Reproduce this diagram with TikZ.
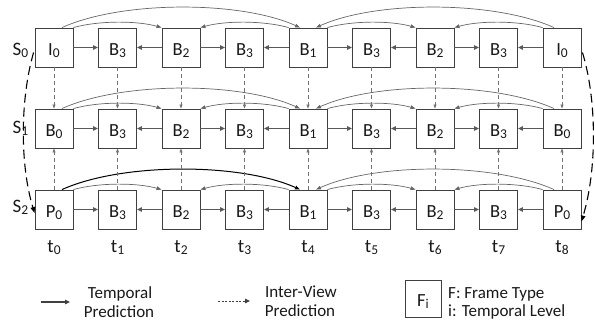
\documentclass[tikz,border=0pt]{standalone}
\usepackage{fontspec}
\setmainfont{Carlito}
\usetikzlibrary{arrows.meta,calc}

% lowered, smaller index digit for frame / view / time labels
\newcommand\sbs[1]{\raisebox{-2pt}{\fontsize{13.5}{13.5}\selectfont #1}}

% one row of nine frames of a GOP; #1 row index, #2 centre y, #3 anchor frame type
\newcommand\framerow[3]{%
  \foreach \c/\ty/\lv in {0/#3/0,1/B/3,2/B/2,3/B/3,4/B/1,5/B/3,6/B/2,7/B/3,8/#3/0}
    \node[framebox] (f#1-\c) at ({54+63.5*\c},#2) {\ty\sbs{\lv}};
}

\begin{document}
\begin{tikzpicture}[x=1pt,y=-1pt,
  every node/.style={text=black!90},
  framebox/.style={draw=black!75, line width=0.9pt, fill=white,
    minimum width=38pt, minimum height=39pt, inner sep=0pt,
    text height=15pt, text depth=0pt, font=\fontsize{18.5}{18.5}\selectfont},
  biglbl/.style={font=\fontsize{19}{19}\selectfont, inner sep=0pt},
  legtext/.style={font=\fontsize{17}{17}\selectfont, inner sep=0pt},
  temporal/.style={draw=black!65, line width=1.6pt,
    -{Triangle[length=5pt,width=4.5pt]}},
  hop/.style={draw=black!60, line width=0.7pt,
    -{Triangle[length=5pt,width=3.6pt]}},
  interview/.style={draw=black!55, line width=0.7pt, dash pattern=on 4pt off 3pt,
    -{Triangle[length=4pt,width=3pt]}},
  viewlink/.style={draw=black, line width=1.1pt, dash pattern=on 9pt off 5pt,
    -{Triangle[length=6pt,width=4.5pt]}},
  legsolid/.style={draw=black!75, line width=1.5pt,
    -{Triangle[length=5pt,width=4.5pt]}},
  legdash/.style={draw=black!75, line width=0.9pt, dash pattern=on 2pt off 1.5pt,
    -{Triangle[length=5pt,width=4.5pt]}}]
\useasboundingbox (0,0) rectangle (595,322);

% frames of the three views
\framerow{0}{47.5}{I}
\framerow{1}{128.5}{B}
\framerow{2}{209.5}{P}

% inter-view links between views S0 and S2
\draw[viewlink] ($(f0-0.west)+(-1,5)$) .. controls (20,100) and (20,165) .. ($(f2-0.west)+(0,3.5)$);
\draw[viewlink] ($(f0-8.east)+(1,5)$) .. controls (597,100) and (597,170) .. ($(f2-8.east)+(0,12)$);

% temporal prediction between neighbouring frames, and the hierarchical hops
\foreach \r in {0,1,2} {
  \foreach \a/\b in {0/1,2/1,2/3,4/3,4/5,6/5,6/7,8/7}
    \draw[temporal] (f\r-\a) -- (f\r-\b);
  \draw[hop] (f\r-0.north east) .. controls +(25,-7) and +(-25,-7) .. (f\r-2.north west);
  \draw[hop] (f\r-4.north west) .. controls +(-25,-7) and +(25,-7) .. (f\r-2.north east);
  \draw[hop] (f\r-4.north east) .. controls +(25,-7) and +(-25,-7) .. (f\r-6.north west);
  \draw[hop] (f\r-8.north west) .. controls +(-25,-7) and +(25,-7) .. (f\r-6.north east);
  \draw[hop] ($(f\r-8.north)+(-8,0)$) .. controls +(-60,-27) and +(60,-27) .. ($(f\r-4.north)+(8,0)$);
}
\foreach \r in {0,1}
  \draw[hop] ($(f\r-0.north)+(8,0)$) .. controls +(60,-27) and +(-60,-27) .. ($(f\r-4.north)+(-8,0)$);
\draw[hop, draw=black, line width=1pt] ($(f2-0.north)+(8,0)$) .. controls +(60,-27) and +(-60,-27) .. ($(f2-4.north)+(-8,0)$);

% inter-view prediction into the middle view
\foreach \c in {0,...,8} {
  \draw[interview] (f0-\c) -- (f1-\c);
  \draw[interview] (f2-\c) -- (f1-\c);
}

% view and time labels
\node[biglbl, anchor=base west] (s0) at (12.5,55) {S\sbs{0}};
\node[biglbl, anchor=base west] (s1) at (12.5,133) {S\sbs{1}};
\node[biglbl, anchor=base west] (s2) at (12.5,212) {S\sbs{2}};
\foreach \c in {0,...,8}
  \node[biglbl, anchor=base] (t\c) at ({54+63.5*\c},252) {t\sbs{\c}};

% key
\coordinate (ka) at (41,302);
\coordinate (kb) at (70,302);
\draw[legsolid] (ka) -- (kb);
\node[legtext, anchor=base] (k1) at (120,298.5) {Temporal};
\node[legtext, anchor=base] (k2) at (119,317.5) {Prediction};

\coordinate (kc) at (218,301);
\coordinate (kd) at (250,301);
\draw[legdash] (kc) -- (kd);
\node[legtext, anchor=base] (k3) at (301,297) {Inter-View};
\node[legtext, anchor=base] (k4) at (300,316.5) {Prediction};

\node[framebox, minimum width=36pt, minimum height=37pt] (key) at (423,299) {F\sbs{i}};
\node[legtext, anchor=base west] (k5) at (448,298.5) {F: Frame Type};
\node[legtext, anchor=base west] (k6) at (448,316.5) {i: Temporal Level};
\end{tikzpicture}
\end{document}
